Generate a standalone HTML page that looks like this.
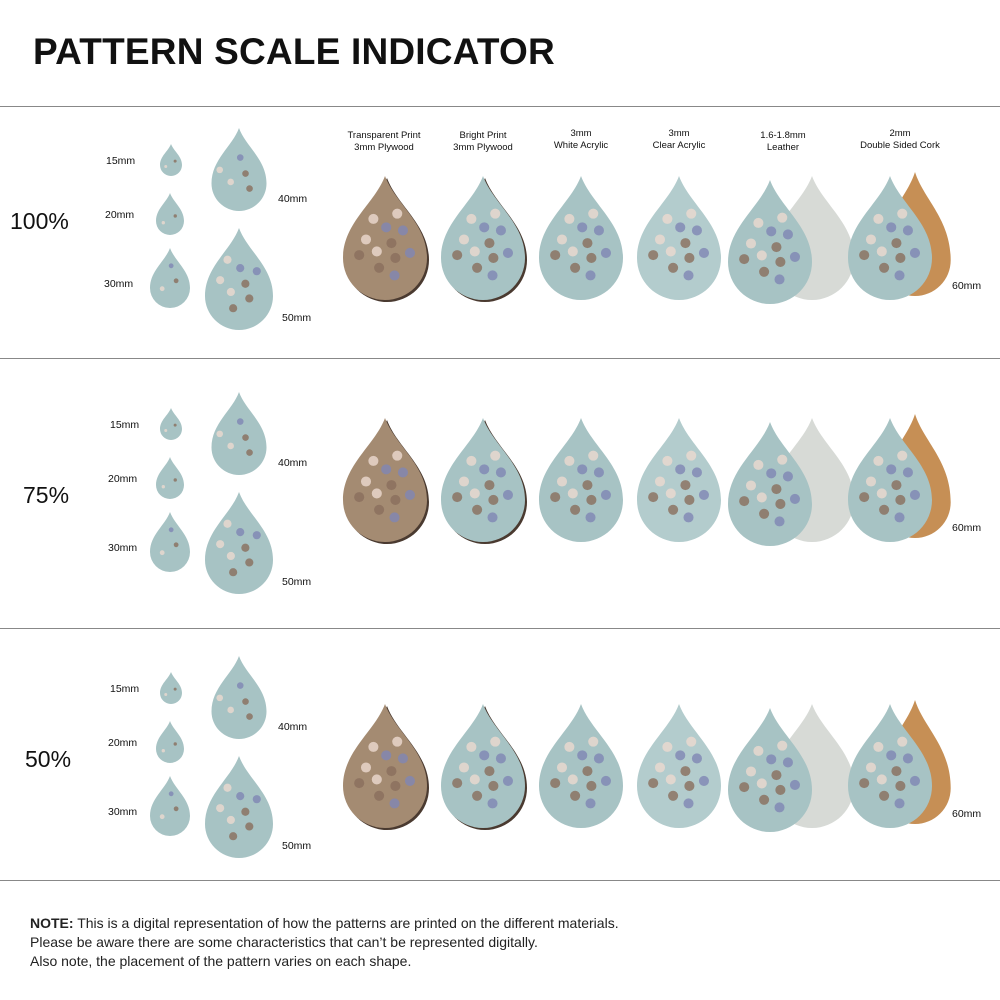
<!DOCTYPE html>
<html><head><meta charset="utf-8">
<style>
body{margin:0;background:#fff;}
#root{position:relative;width:1000px;height:1000px;overflow:hidden;font-family:"Liberation Sans",sans-serif;color:#111;}
.t{position:absolute;font-size:10.5px;white-space:nowrap;}
.h{position:absolute;font-size:9.5px;text-align:center;width:120px;line-height:12px;}
.pct{position:absolute;font-size:23px;}
.sep{position:absolute;left:0;width:1000px;height:1px;background:#888;}
</style></head><body>
<div id="root">
<div style="position:absolute;left:33px;top:31px;font-size:37px;font-weight:bold;letter-spacing:0.2px;">PATTERN SCALE INDICATOR</div>
<div class="sep" style="top:106px"></div>
<div class="sep" style="top:358px"></div>
<div class="sep" style="top:628px"></div>
<div class="sep" style="top:880px"></div>
<div class="h" style="left:324px;top:130px">Transparent Print<br>3mm Plywood</div>
<div class="h" style="left:423px;top:130px">Bright Print<br>3mm Plywood</div>
<div class="h" style="left:521px;top:128px">3mm<br>White Acrylic</div>
<div class="h" style="left:619px;top:128px">3mm<br>Clear Acrylic</div>
<div class="h" style="left:723px;top:130px">1.6-1.8mm<br>Leather</div>
<div class="h" style="left:840px;top:128px">2mm<br>Double Sided Cork</div>
<svg id="svg" width="1000" height="1000" style="position:absolute;left:0;top:0"></svg>
<div style="position:absolute;left:30px;top:914px;font-size:14px;line-height:19px;color:#222;"><b>NOTE:</b> This is a digital representation of how the patterns are printed on the different materials.<br>Please be aware there are some characteristics that can’t be represented digitally.<br>Also note, the placement of the pattern varies on each shape.</div>
</div>
<script>
const svg=document.getElementById('svg');
const root=document.getElementById('root');
const NS='http://www.w3.org/2000/svg';
function drop(cx,top,w,h,fill,name,dots){
  const r=w/2,cy=top+h-r;
  const d=`M${cx} ${top} C${cx+w*0.12} ${top+h*0.22},${cx+r} ${top+h*0.38},${cx+r} ${cy} A${r} ${r} 0 0 1 ${cx-r} ${cy} C${cx-r} ${top+h*0.38},${cx-w*0.12} ${top+h*0.22},${cx} ${top} Z`;
  const p=document.createElementNS(NS,'path');
  p.setAttribute('d',d);p.setAttribute('fill',fill);
  
  
  svg.appendChild(p);
  if(dots){
    const n=Math.max(2,Math.round(w*h/900));
    for(let i=0;i<n;i++){
      const a=(i*2.399)%6.283, rr=Math.sqrt((i+0.5)/n)*r*0.75;
      const x=cx+Math.cos(a)*rr, y=cy-h*0.12+Math.sin(a)*rr*1.1;
      const c=document.createElementNS(NS,'circle');
      c.setAttribute('cx',x);c.setAttribute('cy',y);c.setAttribute('r',Math.max(1.5,w*0.06));
      c.setAttribute('fill',i%3==0?'#8a6e5c':(i%3==1?'#ecd9cf':'#7f86b4'));c.setAttribute('opacity','0.8');
      
      
      svg.appendChild(c);
    }
  }
}
function label(txt,x,y,cls,name){
  const e=document.createElement('div');e.className=cls;e.textContent=txt;
  e.style.left=x+'px';e.style.top=y+'px';
  
  
  root.appendChild(e);
}
const rows=[{pct:'100%',py:208,px:10,s:0,b:0},{pct:'75%',py:482,px:23,s:264,b:242},{pct:'50%',py:746,px:25,s:528,b:528}];
const blue='#a7c3c4',wood='#a48b72';
rows.forEach((R,i)=>{
  label(R.pct,R.px,R.py,'pct','scale-label-'+i);
  const s=R.s;
  drop(171,144+s,22,32,blue,'drop-15mm',true);
  drop(170,193+s,28,42,blue,'drop-20mm',true);
  drop(170,248+s,40,60,blue,'drop-30mm',true);
  drop(239,128+s,55,83,blue,'drop-40mm',true);
  drop(239,228+s,68,102,blue,'drop-50mm',true);
  label('15mm',106+(i?4:0),155+s,'t','label-15mm');
  label('20mm',105+(i?3:0),209+s,'t','label-20mm');
  label('30mm',104+(i?4:0),278+s,'t','label-30mm');
  label('40mm',278,193+s,'t','label-40mm');
  label('50mm',282,312+s,'t','label-50mm');
  const b=R.b,T=176+b,W=84,H=124;
  drop(387,T+2,W,H,'#4a3a30','plywood-edge',false);
  drop(385,T,W,H,wood,'drop-transparent-plywood',true);
  drop(485,T+2,W,H,'#4a3a30','plywood-edge',false);
  drop(483,T,W,H,blue,'drop-bright-plywood',true);
  drop(581,T,W,H,blue,'drop-white-acrylic',true);
  drop(679,T,W,H,'#b3cccd','drop-clear-acrylic',true);
  drop(812,T,W,H,'#d7dad6','drop-leather-back',false);
  drop(770,T+4,W,H,blue,'drop-leather-front',true);
  drop(915,T-4,W*0.85,H,'#c68f55','drop-cork-back',false);
  drop(890,T,W,H,blue,'drop-cork-front',true);
  label('60mm',952,280+b,'t','label-60mm');
});
</script>
</body></html>
